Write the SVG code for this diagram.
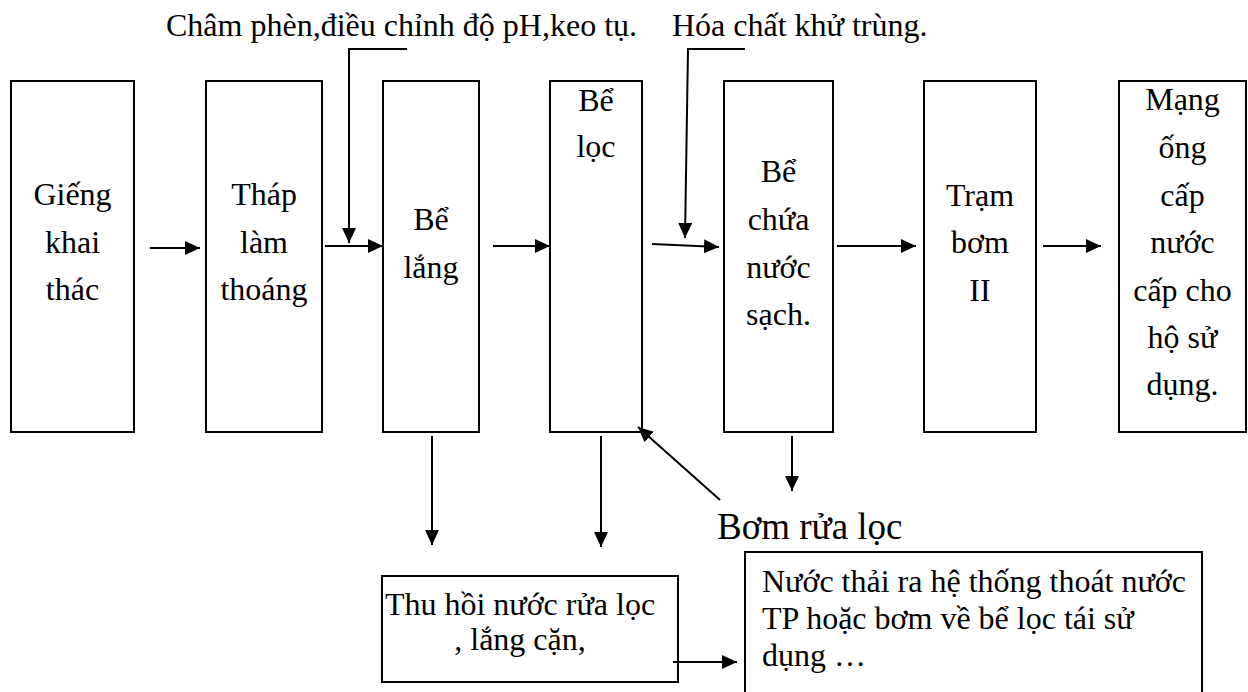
<svg xmlns="http://www.w3.org/2000/svg" width="1248" height="692" viewBox="0 0 1248 692">
  <style>
    .box { fill: #ffffff; stroke: #000000; stroke-width: 2; }
    .lbl { font-family: "Liberation Serif", "Times New Roman", serif; font-size: 32px; fill: #000000; text-anchor: middle; }
    .lbl-l { font-family: "Liberation Serif", "Times New Roman", serif; font-size: 32px; fill: #000000; }
    .big { font-family: "Liberation Serif", "Times New Roman", serif; font-size: 37px; fill: #000000; }
    .wire { fill: none; stroke: #000000; stroke-width: 2; }
    .arrow { fill: none; stroke: #000000; stroke-width: 2; marker-end: url(#head); }
  </style>
  <defs>
    <marker id="head" markerUnits="userSpaceOnUse" markerWidth="16" markerHeight="15" refX="15" refY="7" orient="auto">
      <path d="M0,0 L15,7 L0,14 z" fill="#000000"/>
    </marker>
  </defs>

  <rect width="1248" height="692" fill="#ffffff"/>

  <!-- chemical dosing labels -->
  <text class="lbl-l" x="166" y="36">Châm phèn,điều chỉnh độ pH,keo tụ.</text>
  <text class="lbl-l" x="672" y="36">Hóa chất khử trùng.</text>

  <!-- main treatment line -->
  <g id="gieng-khai-thac">
    <rect class="box" x="11" y="81" width="123" height="351"/>
    <text class="lbl" x="72.5" y="205">Giếng</text>
    <text class="lbl" x="72.5" y="253">khai</text>
    <text class="lbl" x="72.5" y="300">thác</text>
  </g>
  <g id="thap-lam-thoang">
    <rect class="box" x="206" y="81" width="116" height="351"/>
    <text class="lbl" x="264" y="205">Tháp</text>
    <text class="lbl" x="264" y="253">làm</text>
    <text class="lbl" x="264" y="300">thoáng</text>
  </g>
  <g id="be-lang">
    <rect class="box" x="383" y="81" width="96" height="351"/>
    <text class="lbl" x="431" y="230">Bể</text>
    <text class="lbl" x="431" y="278">lắng</text>
  </g>
  <g id="be-loc">
    <rect class="box" x="550" y="81" width="92" height="351"/>
    <text class="lbl" x="596" y="111">Bể</text>
    <text class="lbl" x="596" y="157">lọc</text>
  </g>
  <g id="be-chua">
    <rect class="box" x="724" y="81" width="109" height="351"/>
    <text class="lbl" x="778.5" y="182">Bể</text>
    <text class="lbl" x="778.5" y="230">chứa</text>
    <text class="lbl" x="778.5" y="278">nước</text>
    <text class="lbl" x="778.5" y="325">sạch.</text>
  </g>
  <g id="tram-bom">
    <rect class="box" x="924" y="81" width="112" height="351"/>
    <text class="lbl" x="980" y="206">Trạm</text>
    <text class="lbl" x="980" y="253">bơm</text>
    <text class="lbl" x="980" y="301">II</text>
  </g>
  <g id="mang-ong">
    <rect class="box" x="1119" y="81" width="127" height="351"/>
    <text class="lbl" x="1182.5" y="110">Mạng</text>
    <text class="lbl" x="1182.5" y="158">ống</text>
    <text class="lbl" x="1182.5" y="206">cấp</text>
    <text class="lbl" x="1182.5" y="253">nước</text>
    <text class="lbl" x="1182.5" y="301">cấp cho</text>
    <text class="lbl" x="1182.5" y="348">hộ sử</text>
    <text class="lbl" x="1182.5" y="395">dụng.</text>
  </g>

  <!-- washing / sludge handling -->
  <g id="bom-rua-loc">
    <text class="big" x="717" y="539">Bơm rửa lọc</text>
  </g>
  <g id="thu-hoi">
    <rect class="box" x="382" y="576" width="296" height="106"/>
    <text class="lbl" x="520" y="615">Thu hồi nước rửa lọc</text>
    <text class="lbl" x="520" y="650">, lắng cặn,</text>
  </g>
  <g id="nuoc-thai">
    <rect class="box" x="745" y="552" width="457" height="150"/>
    <text class="lbl-l" x="762" y="592">Nước thải ra hệ thống thoát nước</text>
    <text class="lbl-l" x="762" y="629">TP hoặc bơm về bể lọc tái sử</text>
    <text class="lbl-l" x="762" y="666">dụng …</text>
  </g>

  <g id="connectors">
    <line class="arrow" x1="150" y1="248" x2="200" y2="248"/>
    <line class="arrow" x1="325" y1="246" x2="383" y2="246"/>
    <polyline class="arrow" points="407,49 349,49 349,243"/>
    <line class="arrow" x1="493" y1="246" x2="550" y2="246"/>
    <line class="arrow" x1="652" y1="244" x2="719" y2="247"/>
    <polyline class="arrow" points="745,49 688,49 685,238"/>
    <line class="arrow" x1="837" y1="246" x2="916" y2="246"/>
    <line class="arrow" x1="1043" y1="246" x2="1101" y2="246"/>
    <line class="arrow" x1="432" y1="436" x2="432" y2="545"/>
    <line class="arrow" x1="601" y1="436" x2="601" y2="547"/>
    <line class="arrow" x1="792" y1="436" x2="792" y2="491"/>
    <line class="arrow" x1="720" y1="500" x2="638" y2="427"/>
    <line class="arrow" x1="673" y1="662" x2="737" y2="662"/>
  </g>
</svg>
